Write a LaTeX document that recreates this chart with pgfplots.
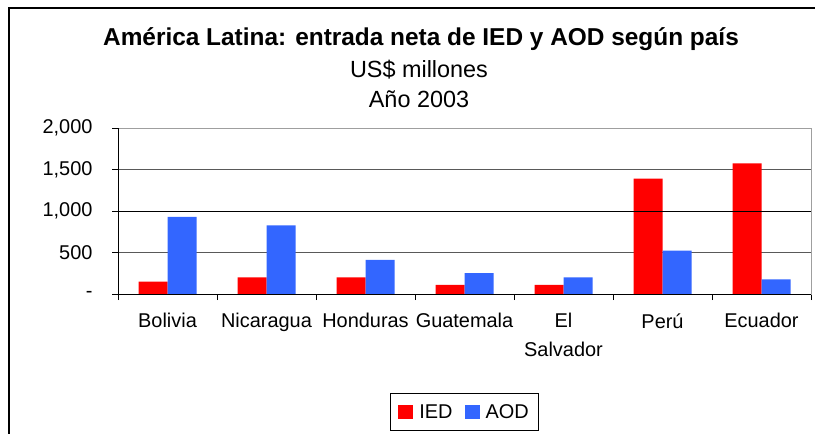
\documentclass[border=0pt]{standalone}
\usepackage{fontspec}
\setmainfont{Liberation Sans}
\usepackage{pgfplots}
\pgfplotsset{compat=1.18}
\definecolor{iedred}{HTML}{FF0000}
\definecolor{aodblue}{HTML}{3366FF}
\begin{document}
\begin{tikzpicture}[x=1bp,y=1bp]
\useasboundingbox (0,0) rectangle (815,-434);
\clip (0,0) rectangle (815,-434);
\draw[line width=1.5bp] (9,-480) -- (9,-8) -- (860,-8);
\node[anchor=base,inner sep=0pt,font=\fontsize{24.5}{28}\selectfont\bfseries] at (421,-46) {América Latina: entrada neta de IED y AOD según país};
\node[anchor=base,inner sep=0pt,font=\fontsize{23.5}{26}\selectfont] at (419,-78) {US\$ millones};
\node[anchor=base,inner sep=0pt,font=\fontsize{23.5}{26}\selectfont] at (419,-108) {Año 2003};
\begin{axis}[
  at={(118bp,-294bp)}, anchor=south west,
  scale only axis, width=693bp, height=166bp,
  ybar=0pt, bar width=29bp,
  xmin=-0.5, xmax=6.5, ymin=0, ymax=2000,
  xtick={0,...,6},
  xticklabels={Bolivia,Nicaragua,Honduras,Guatemala,El\\Salvador,Perú,Ecuador},
  xticklabel style={align=center, font=\fontsize{20}{29}\selectfont, anchor=north, yshift=-10bp},
  major x tick style={draw=none},
  minor xtick={-0.5,0.5,...,6.5},
  minor tick length=6bp, major tick length=6bp,
  tick align=outside,
  tick style={black, line width=0.8bp},
  ytick={0,500,1000,1500,2000},
  yticklabels={{-},{500},{1,000},{1,500},{2,000}},
  yticklabel style={font=\fontsize{20}{24}\selectfont, anchor=east, xshift=-16bp},
  ymajorgrids,
  grid style={black!65, line width=0.8bp},
  axis line style={gray!75, line width=0.9bp},
  /pgf/number format/assume math mode=true,
  xtick pos=bottom, ytick pos=left,
  legend style={at={(0.500,-0.711)}, anchor=center, draw=black, line width=0.8bp,
    font=\fontsize{20}{24}\selectfont, legend columns=2,
    inner xsep=8bp, inner ysep=9bp,
    /tikz/every odd column/.append style={column sep=4bp},
    /tikz/every even column/.append style={column sep=10bp}},
  legend cell align=left,
  legend image code/.code={\fill[#1,draw=none] (0bp,-7bp) rectangle (15bp,7bp);},
  clip=false,
]
\addplot[fill=iedred, draw=none] coordinates {(0,150) (1,200) (2,200) (3,110) (4,110) (5,1390) (6,1573)};
\addplot[fill=aodblue, draw=none] coordinates {(0,930) (1,826) (2,410) (3,251) (4,200) (5,522) (6,175)};
\legend{IED,AOD}
\draw[black, line width=0.9bp] (rel axis cs:0,1) -- (rel axis cs:0,0) -- (rel axis cs:1,0);
\draw[black, line width=0.9bp] (axis cs:-0.5,1000) -- (axis cs:6.5,1000);
\end{axis}
\end{tikzpicture}
\end{document}
